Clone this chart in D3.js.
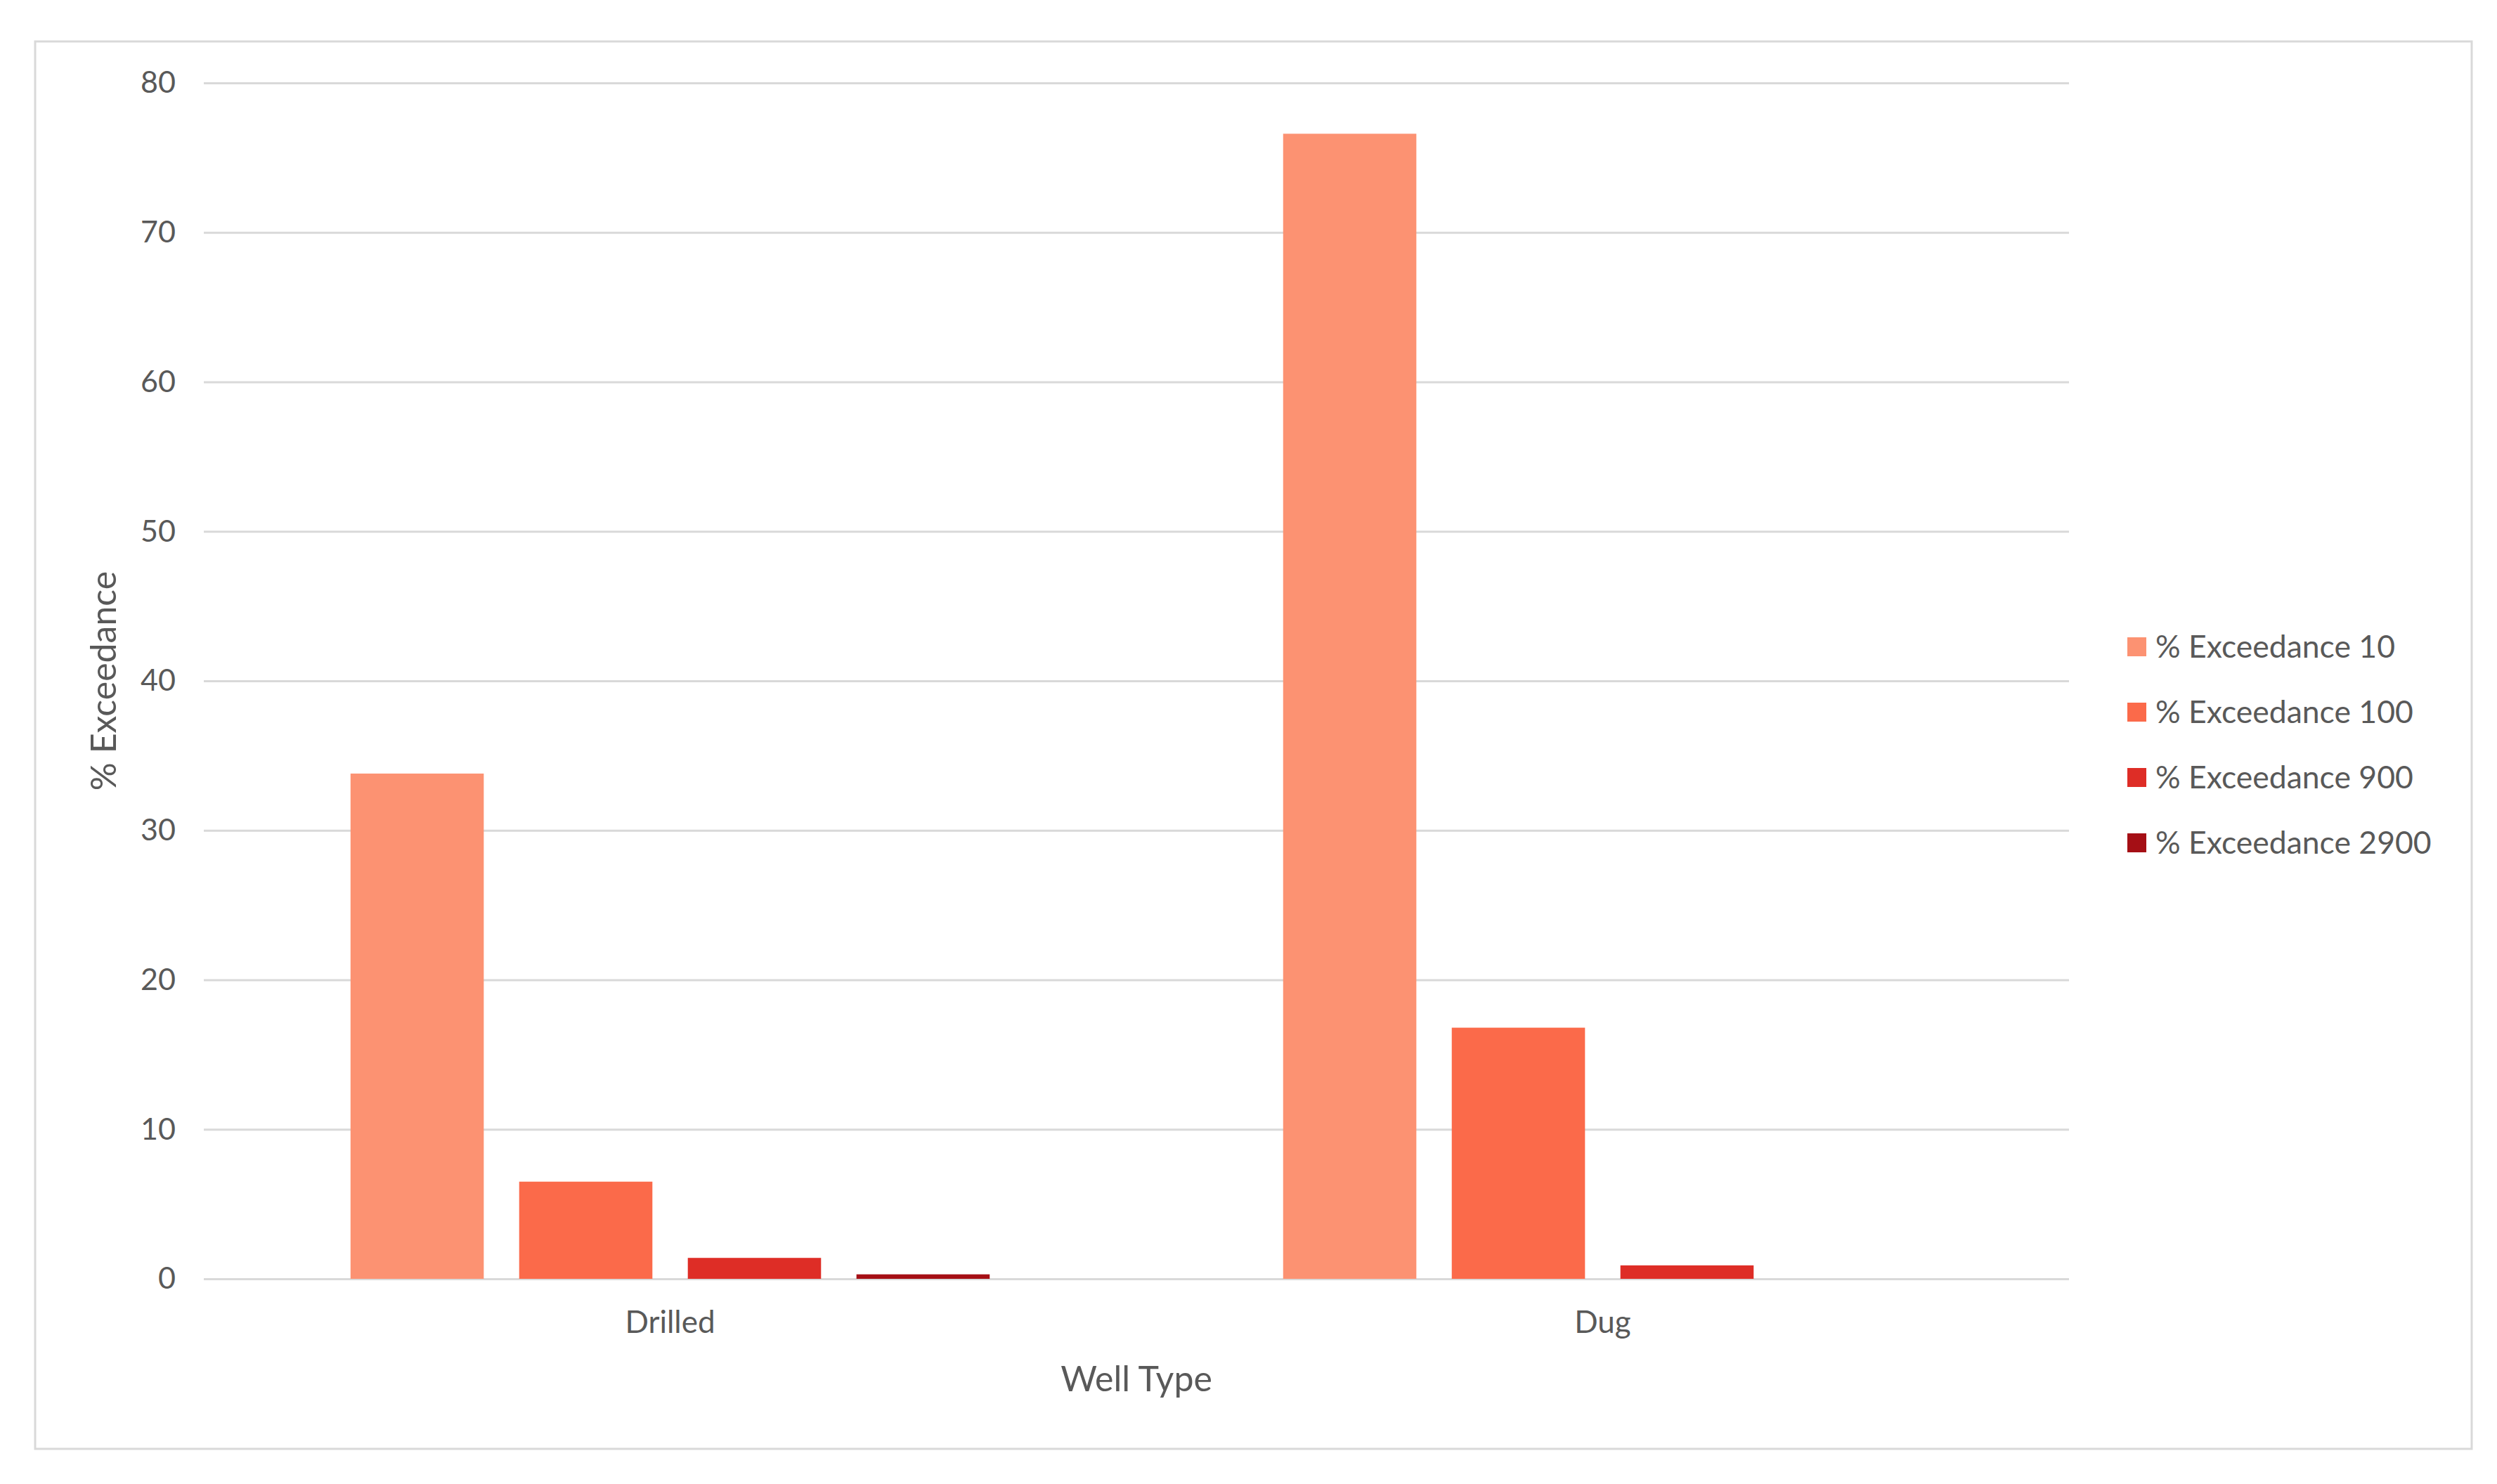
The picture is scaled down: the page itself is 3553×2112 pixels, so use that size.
<!DOCTYPE html>
<html>
<head>
<meta charset="utf-8">
<script src="https://cdn.jsdelivr.net/npm/d3@7"></script>
<style>
  body { margin: 0; background: #fff; }
  svg text { font-family: Lato, 'Open Sans', sans-serif; fill: #595959; }
</style>
</head>
<body>
<svg id="chart" width="3553" height="2112"></svg>
<script>
'use strict';

// chart data
var categories = ['Drilled', 'Dug'];
var seriesNames = ['% Exceedance 10', '% Exceedance 100', '% Exceedance 900', '% Exceedance 2900'];
var drilledValues = [33.8, 6.5, 1.4, 0.3];
var dugValues = [76.6, 16.8, 0.9, 0];
var yTicks = [0, 10, 20, 30, 40, 50, 60, 70, 80];
var colors = ['#fc9272', '#fb6a4a', '#de2d26', '#a50f15'];

var valuesByCat = { 'Drilled': drilledValues, 'Dug': dugValues };

var svg = d3.select('#chart');
var plot = { left: 290, right: 2944, top: 118, bottom: 1820 };

// outer chart frame
svg.append('rect')
  .attr('x', 50).attr('y', 59)
  .attr('width', 3467).attr('height', 2003)
  .attr('fill', '#fff')
  .attr('stroke', '#d9d9d9')
  .attr('stroke-width', 3);

var y = d3.scaleLinear().domain([0, 80]).range([plot.bottom, plot.top]);
var x0 = d3.scaleBand().domain(categories).range([plot.left, plot.right]);
var x1 = d3.scaleBand().domain(seriesNames)
  .range([0, x0.bandwidth()])
  .paddingInner(0.21)
  .paddingOuter(0.87);

// gridlines + y labels
var yAxis = d3.axisLeft(y)
  .tickValues(yTicks)
  .tickSize(-(plot.right - plot.left))
  .tickPadding(40);

var yg = svg.append('g')
  .attr('transform', 'translate(' + plot.left + ',0)')
  .call(yAxis);
yg.select('.domain').remove();
yg.selectAll('line').attr('stroke', '#d9d9d9').attr('stroke-width', 3);
yg.selectAll('text')
  .style('font-size', '43px')
  .attr('fill', '#595959');

// bars
var groups = svg.selectAll('g.cat')
  .data(categories)
  .enter()
  .append('g')
  .attr('class', 'cat')
  .attr('transform', function(d) { return 'translate(' + x0(d) + ',0)'; });

groups.selectAll('rect')
  .data(function(d) {
    return valuesByCat[d].map(function(v, i) { return { name: seriesNames[i], value: v, i: i }; });
  })
  .enter()
  .append('rect')
  .attr('x', function(d) { return x1(d.name); })
  .attr('y', function(d) { return y(d.value); })
  .attr('width', x1.bandwidth())
  .attr('height', function(d) { return y(0) - y(d.value); })
  .attr('fill', function(d) { return colors[d.i]; });

// x axis labels
var xAxis = d3.axisBottom(x0).tickSize(0).tickPadding(46);
var xg = svg.append('g')
  .attr('transform', 'translate(0,' + plot.bottom + ')')
  .call(xAxis);
xg.select('.domain').remove();
xg.selectAll('text')
  .style('font-size', '44px')
  .attr('fill', '#595959');

// axis titles
svg.append('text')
  .attr('x', (plot.left + plot.right) / 2)
  .attr('y', 1980)
  .attr('text-anchor', 'middle')
  .style('font-size', '50px')
  .text('Well Type');

svg.append('text')
  .attr('transform', 'translate(165,' + (plot.top + plot.bottom) / 2 + ') rotate(-90)')
  .attr('text-anchor', 'middle')
  .style('font-size', '50px')
  .text('% Exceedance');

// legend
var legend = svg.append('g').attr('transform', 'translate(3027,920)');
var items = legend.selectAll('g')
  .data(seriesNames)
  .enter()
  .append('g')
  .attr('transform', function(d, i) { return 'translate(0,' + i * 93 + ')'; });

items.append('rect')
  .attr('x', 0).attr('y', -13)
  .attr('width', 27).attr('height', 27)
  .attr('fill', function(d, i) { return colors[i]; });

items.append('text')
  .attr('x', 40)
  .attr('dy', '0.35em')
  .style('font-size', '44.5px')
  .text(function(d) { return d; });
</script>
</body>
</html>
